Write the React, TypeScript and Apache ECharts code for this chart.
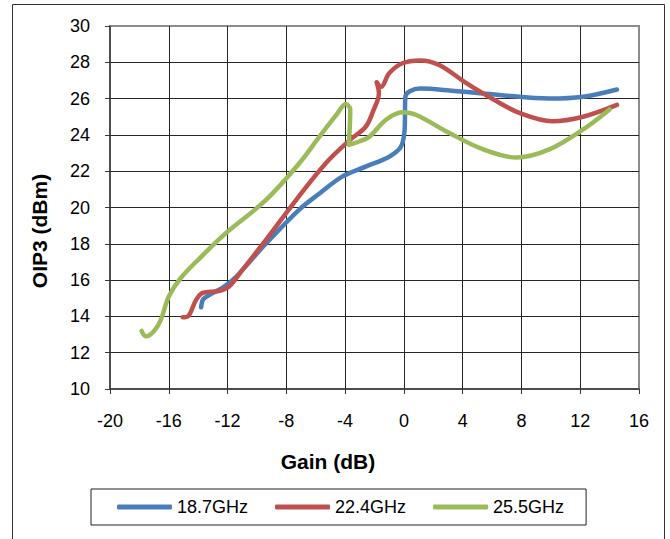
import React, { useEffect, useRef } from "react";
import * as echarts from "echarts";

const seriesNames = ["18.7GHz", "22.4GHz", "25.5GHz"];
const seriesColors = ["#4a7ebb", "#c0504d", "#9bbb59"];

const gain187 = [-13.8, -13.65, -13.2, -12.3, -11.4, -9.4, -7.1, -5.7, -4.2, -2.6, -1.0, -0.2, 0.05, 0.1, 0.4, 1.1, 3.1, 6.5, 9.9, 12.2, 14.5];
const oip187 = [14.5, 14.95, 15.2, 15.6, 16.2, 18.0, 19.9, 20.8, 21.7, 22.25, 22.8, 23.35, 24.3, 26.1, 26.4, 26.55, 26.45, 26.2, 26.0, 26.1, 26.5];

const gain224 = [-15.05, -14.7, -14.15, -13.7, -12.6, -11.9, -11.0, -9.4, -7.3, -5.3, -3.7, -2.6, -2.1, -1.7, -1.85, -1.55, -1.0, -0.1, 1.1, 2.4, 4.25, 6.1, 7.9, 10.1, 12.2, 14.5];
const oip224 = [13.95, 14.0, 14.9, 15.3, 15.4, 15.65, 16.55, 18.2, 20.45, 22.45, 23.7, 24.45, 25.3, 26.3, 26.9, 26.65, 27.4, 27.95, 28.1, 27.85, 26.85, 25.95, 25.2, 24.75, 25.0, 25.65];

const gain255 = [-17.85, -17.55, -17.0, -16.55, -16.0, -15.2, -13.9, -12.1, -9.4, -7.1, -5.75, -4.6, -3.95, -3.65, -3.75, -3.0, -2.35, -1.2, -0.1, 0.85, 3.1, 5.4, 7.65, 9.9, 12.2, 14.0];
const oip255 = [13.2, 12.9, 13.2, 13.8, 15.1, 16.1, 17.2, 18.6, 20.4, 22.45, 23.9, 25.1, 25.7, 25.4, 23.45, 23.65, 23.9, 24.85, 25.25, 25.1, 24.1, 23.2, 22.75, 23.2, 24.3, 25.4];

const xTitle = "Gain (dB)";
const yTitle = "OIP3 (dBm)";

const FONT = '"Liberation Sans", Arial, sans-serif';

function zip(xs: number[], ys: number[]) {
  return xs.map((x, i) => [x, ys[i]]);
}

export default function App() {
  const ref = useRef<HTMLDivElement>(null);
  useEffect(() => {
    if (!ref.current) return;
    const chart = echarts.init(ref.current, undefined, { renderer: "svg" });
    const datasets = [zip(gain187, oip187), zip(gain224, oip224), zip(gain255, oip255)];
    chart.setOption({
      animation: false,
      backgroundColor: "#ffffff",
      grid: {
        left: 110,
        right: 31,
        top: 26,
        bottom: 150,
        show: true,
        borderColor: "#8c8c8c",
        borderWidth: 2,
        containLabel: false,
      },
      xAxis: {
        type: "value",
        min: -20,
        max: 16,
        interval: 4,
        axisLine: { show: true, onZero: false, lineStyle: { color: "#3a3a3a", width: 1.5 } },
        axisTick: { show: true, length: 5, lineStyle: { color: "#3a3a3a" } },
        axisLabel: { color: "#000", fontSize: 18, fontFamily: FONT, margin: 23 },
        splitLine: { show: true, showMinLine: false, showMaxLine: false, lineStyle: { color: "#262626", width: 1 } },
      },
      yAxis: {
        type: "value",
        min: 10,
        max: 30,
        interval: 2,
        axisLine: { show: true, onZero: false, lineStyle: { color: "#3a3a3a", width: 1.5 } },
        axisTick: { show: true, length: 5, lineStyle: { color: "#3a3a3a" } },
        axisLabel: { color: "#000", fontSize: 18, fontFamily: FONT, margin: 20 },
        splitLine: { show: true, showMinLine: false, showMaxLine: false, lineStyle: { color: "#262626", width: 1 } },
      },
      legend: {
        left: 91,
        top: 489,
        padding: [9, 22, 9, 26],
        itemGap: 27,
        itemWidth: 55,
        itemHeight: 5,
        icon: "roundRect",
        borderColor: "#222",
        borderWidth: 1,
        textStyle: { color: "#000", fontSize: 18, fontFamily: FONT },
        data: seriesNames,
      },
      graphic: [
        {
          type: "rect",
          shape: { x: 12.5, y: 4.5, width: 652, height: 560 },
          style: { fill: "none", stroke: "#333", lineWidth: 1 },
          silent: true,
          z: -1,
        },
        {
          type: "text",
          x: 328,
          y: 461,
          style: {
            text: xTitle,
            fill: "#000",
            font: `bold 21px ${FONT}`,
            textAlign: "center",
            textVerticalAlign: "middle",
          },
        },
        {
          type: "text",
          x: 39,
          y: 231,
          rotation: Math.PI / 2,
          style: {
            text: yTitle,
            fill: "#000",
            font: `bold 21px ${FONT}`,
            textAlign: "center",
            textVerticalAlign: "middle",
          },
        },
      ],
      series: seriesNames.map((name, i) => ({
        name,
        type: "line",
        data: datasets[i],
        smooth: 0.35,
        showSymbol: false,
        symbol: "none",
        color: seriesColors[i],
        lineStyle: { color: seriesColors[i], width: 4.5, cap: "round", join: "round" },
      })),
    });
    return () => chart.dispose();
  }, []);
  return (
    <div
      ref={ref}
      style={{ position: "fixed", left: 0, top: 0, width: 670, height: 539 }}
    />
  );
}
